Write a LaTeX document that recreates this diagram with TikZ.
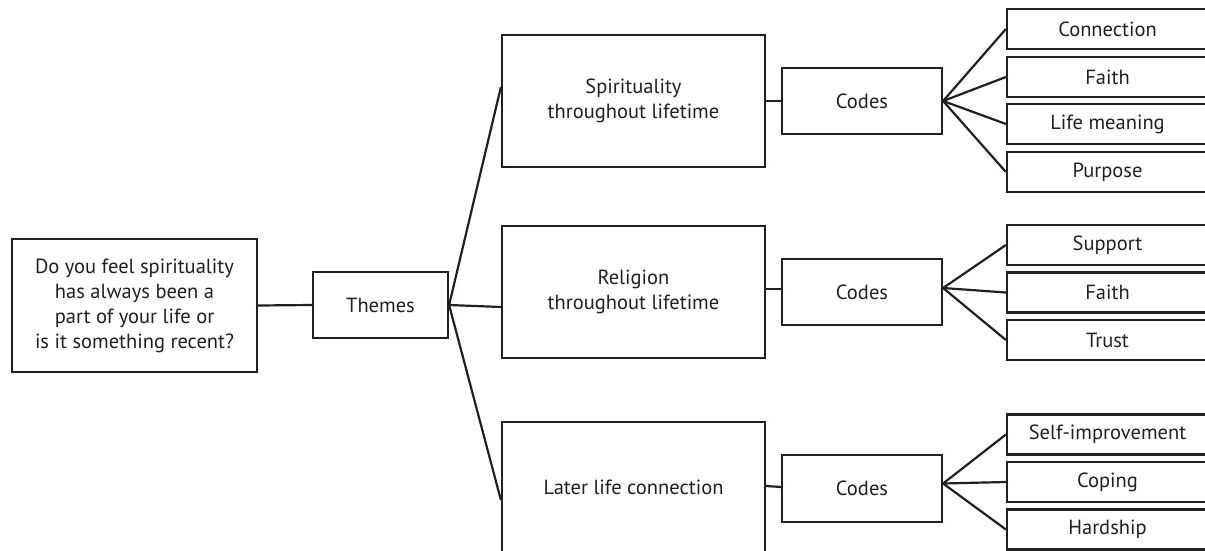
\documentclass[tikz,border=0pt]{standalone}
\usepackage{fontspec}
\setmainfont{PT Sans}
\definecolor{ink}{HTML}{231F20}
\tikzset{
  box/.style={draw=ink, line width=2.2pt, fill=white, inner sep=0pt, align=center, text=ink,
     font=\fontsize{20.5}{25}\selectfont},
  conn/.style={draw=ink, line width=2.2pt},
}
\begin{document}
\begin{tikzpicture}[x=1pt,y=-1pt]
\useasboundingbox (0,0) rectangle (1205,551);
\clip (0,0) rectangle (1205,551);
\fill[white] (0,0) rectangle (1205,551);
\node[box, minimum width=245pt, minimum height=133pt] (q) at (134.5,305.5)
  {Do you feel spirituality\\has always been a\\part of your life or\\is it something recent?};
\node[box, minimum width=135pt, minimum height=66pt] (themes) at (380.5,305) {Themes};
\node[box, minimum width=263pt, minimum height=132pt] (spir) at (633.5,101) {Spirituality\\throughout lifetime};
\node[box, minimum width=263pt, minimum height=132pt] (rel) at (633.5,292) {Religion\\throughout lifetime};
\node[box, minimum width=263pt, minimum height=131pt] (later) at (633.5,487.5) {Later life connection};
\node[box, minimum width=160pt, minimum height=66pt] (c1) at (862,101) {Codes};
\node[box, minimum width=160pt, minimum height=66pt] (c2) at (862,292) {Codes};
\node[box, minimum width=160pt, minimum height=67pt] (c3) at (862,488.5) {Codes};
\tikzset{leaf/.style={box, minimum width=201pt, minimum height=40pt}}
\node[leaf] (a1) at (1107.5,29) {Connection};
\node[leaf] (a2) at (1107.5,77) {Faith};
\node[leaf] (a3) at (1107.5,124) {Life meaning};
\node[leaf] (a4) at (1107.5,172) {Purpose};
\node[leaf] (b1) at (1107.5,245) {Support};
\node[leaf] (b2) at (1107.5,292.5) {Faith};
\node[leaf] (b3) at (1107.5,340) {Trust};
\node[leaf] (d1) at (1107.5,434.5) {Self-improvement};
\node[leaf] (d2) at (1107.5,482) {Coping};
\node[leaf] (d3) at (1107.5,529.5) {Hardship};
\draw[conn] (q.east) -- (themes.west);
\draw[conn] (themes.east) -- ([yshift=14pt]spir.west);
\draw[conn] (themes.east) -- ([yshift=-15pt]rel.west);
\draw[conn] (themes.east) -- ([yshift=-12.5pt]later.west);
\draw[conn] (spir.east) -- (c1.west);
\draw[conn] ([yshift=3pt]rel.east) -- ([yshift=3pt]c2.west);
\draw[conn] ([yshift=1.5pt]later.east) -- ([yshift=1.5pt]c3.west);
\foreach \t in {a1,a2,a3,a4} \draw[conn] (c1.east) -- (\t.west);
\foreach \t in {b1,b2,b3} \draw[conn] ([yshift=4pt]c2.east) -- (\t.west);
\foreach \t in {d1,d2,d3} \draw[conn] ([yshift=5pt]c3.east) -- (\t.west);
\end{tikzpicture}
\end{document}
